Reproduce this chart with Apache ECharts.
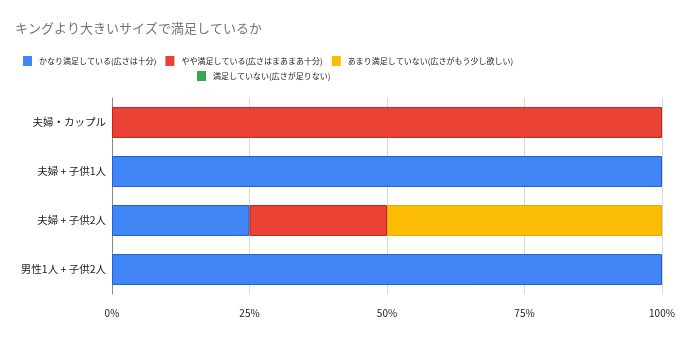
<!DOCTYPE html>
<html><head><meta charset="utf-8">
<script src="https://cdn.jsdelivr.net/npm/echarts@6/dist/echarts.min.js"></script>
<style>html,body{margin:0;padding:0;background:#fff}#c{width:680px;height:337px}</style>
</head><body><div id="c"></div>
<script>
const title = 'キングより大きいサイズで満足しているか';
const categories = ['夫婦・カップル', '夫婦 + 子供1人', '夫婦 + 子供2人', '男性1人 + 子供2人'];
const seriesNames = ['かなり満足している(広さは十分)', 'やや満足している(広さはまあまあ十分)', 'あまり満足していない(広さがもう少し欲しい)', '満足していない(広さが足りない)'];
const verySatisfied = [0, 100, 25, 100];
const somewhatSatisfied = [100, 0, 25, 0];
const notVery = [0, 0, 50, 0];
const notSatisfied = [0, 0, 0, 0];
const xTicks = ['0%', '25%', '50%', '75%', '100%'];

const colors = ['#4285F4', '#EA4335', '#FBBC04', '#34A853'];
const borders = ['#1a5fd6', '#c5221f', '#e8a800', '#188038'];
const values = [verySatisfied, somewhatSatisfied, notVery, notSatisfied];
const font = '"Noto Sans CJK JP", Roboto, Arial, sans-serif';

const chart = echarts.init(document.getElementById('c'), null, {renderer: 'canvas'});
const legendCommon = {itemWidth: 9, itemHeight: 10, itemGap: 9, icon: 'rect',
  itemStyle: {borderWidth: 0}, textStyle: {fontSize: 8, color: '#222', fontFamily: font, padding: [0, 0, 0, 2]}};
chart.setOption({
  animation: false,
  textStyle: {fontFamily: font},
  title: {text: title, left: 10, top: 17, textStyle: {fontSize: 13, fontWeight: 'normal', color: '#757575', fontFamily: font}},
  legend: [
    Object.assign({data: seriesNames.slice(0, 3), left: 18, top: 51}, legendCommon),
    Object.assign({data: seriesNames.slice(3), left: 192, top: 66}, legendCommon)
  ],
  grid: {left: 112, right: 18, top: 98, bottom: 43, containLabel: false},
  xAxis: {type: 'value', min: 0, max: 100, interval: 25,
    axisLabel: {formatter: v => xTicks[v / 25], color: '#222', fontSize: 10, margin: 14},
    splitLine: {lineStyle: {color: '#d9d9d9'}}, axisLine: {show: false}, axisTick: {show: false}},
  yAxis: {type: 'category', data: categories, inverse: true,
    axisLine: {show: true, lineStyle: {color: '#888', width: 1}}, axisTick: {show: false},
    axisLabel: {color: '#222', fontSize: 10.5, margin: 6}},
  series: seriesNames.map((n, i) => ({
    name: n, type: 'bar', stack: 'total', data: values[i].map(v => v === 0 ? null : v), barCategoryGap: '37%',
    itemStyle: {color: colors[i], borderColor: borders[i], borderWidth: 1}
  }))
});
</script></body></html>
